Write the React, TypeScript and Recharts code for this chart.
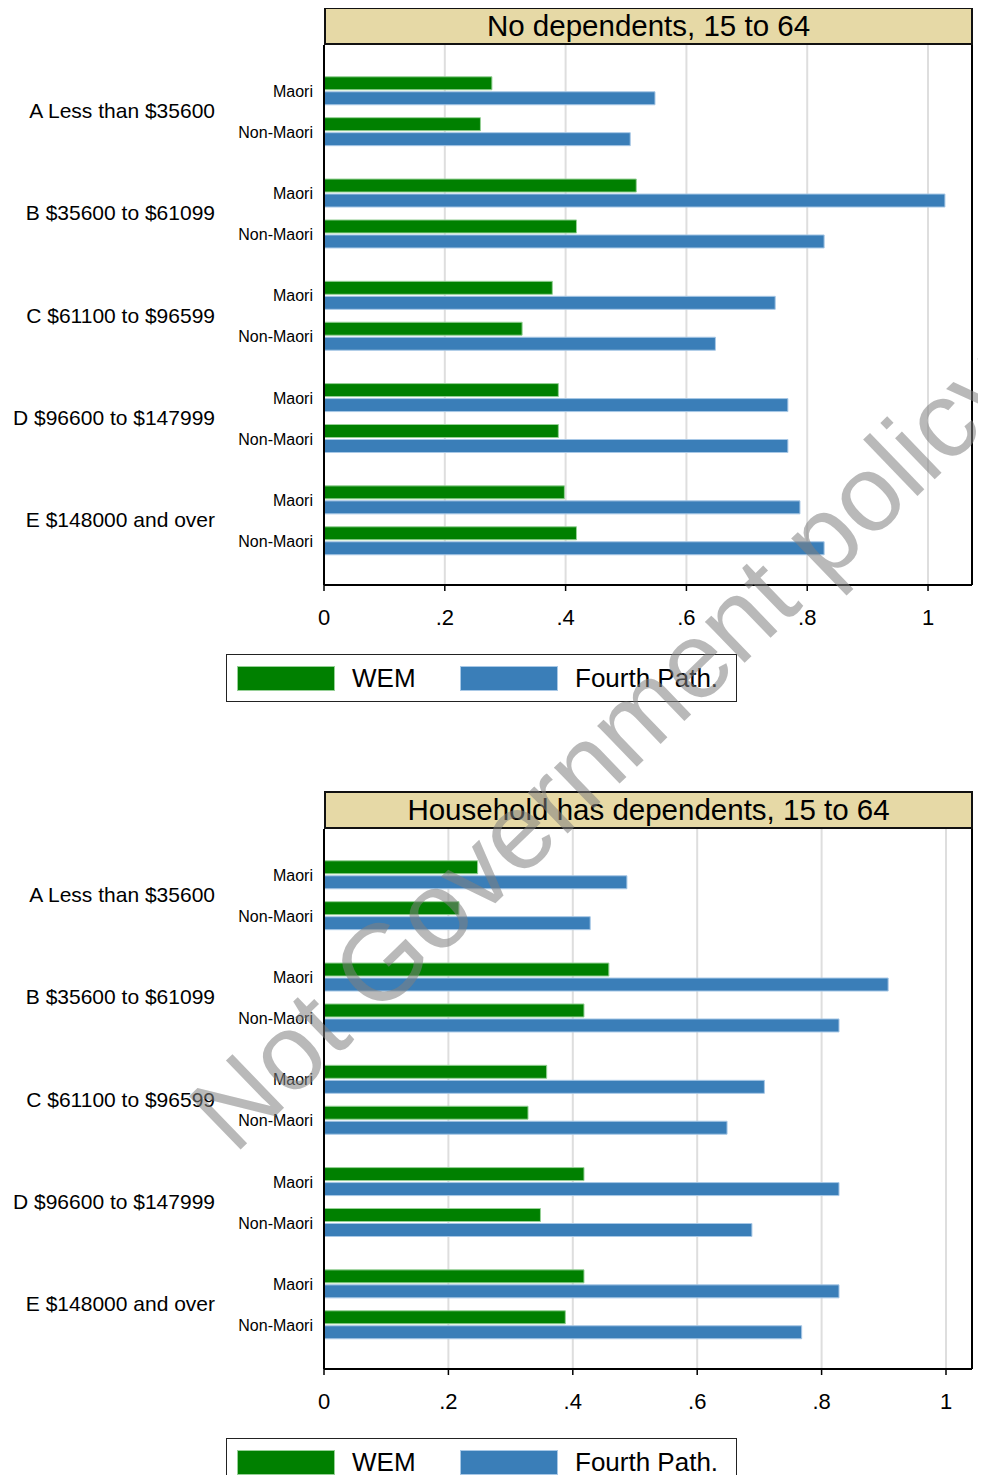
import React from 'react';
import { BarChart, Bar, XAxis, YAxis, CartesianGrid, ReferenceLine } from 'recharts';

// income bands, each split into Maori / Non-Maori rows
const incomeGroups = [
  'A Less than $35600',
  'B $35600 to $61099',
  'C $61100 to $96599',
  'D $96600 to $147999',
  'E $148000 and over',
];
const ethnicities = ['Maori', 'Non-Maori'];
const xTicks = [0, 0.2, 0.4, 0.6, 0.8, 1];
const xTickLabels = ['0', '.2', '.4', '.6', '.8', '1'];

// row order: A Maori, A Non-Maori, B Maori, B Non-Maori, ...
const noDepWem = [0.278, 0.259, 0.517, 0.418, 0.378, 0.328, 0.388, 0.388, 0.398, 0.418];
const noDepFourth = [0.548, 0.507, 1.028, 0.828, 0.747, 0.648, 0.768, 0.768, 0.788, 0.828];
const depWem = [0.247, 0.217, 0.458, 0.418, 0.358, 0.328, 0.418, 0.348, 0.418, 0.388];
const depFourth = [0.487, 0.428, 0.907, 0.828, 0.708, 0.648, 0.828, 0.688, 0.828, 0.768];

const series = [
  { key: 'wem', name: 'WEM', fill: '#008000', stroke: '#96d096' },
  { key: 'fourth', name: 'Fourth Path.', fill: '#3a7eb8', stroke: '#a8c8e6' },
];

const FONT = '"Liberation Sans", Arial, Helvetica, sans-serif';
const CHART_W = 986;
const PLOT_TOP = 45;
const PLOT_H = 540;
const Y_DOMAIN: [number, number] = [-2.26, 24.14];
const UNIT_PX = PLOT_H / (Y_DOMAIN[1] - Y_DOMAIN[0]);

type Row = { group: string; eth: string; pos: number; wem: number; fourth: number };

const buildRows = (wem: number[], fourth: number[]): Row[] =>
  incomeGroups.flatMap((group, gi) =>
    ethnicities.map((eth, ei) => {
      const i = gi * ethnicities.length + ei;
      // 2 units between rows of a band, 3 units between bands
      return { group, eth, pos: gi * 5 + ei * 2, wem: wem[i], fourth: fourth[i] };
    })
  );

const RowTick = ({ x, y, payload, rows }: any) => {
  const row = rows.find((r: Row) => r.pos === payload.value);
  if (!row) return null;
  return (
    <g>
      <text x={x} y={y} dy="0.35em" textAnchor="end" fontSize={16} fill="#000">
        {row.eth}
      </text>
      {row.eth === ethnicities[0] && (
        <text x={x - 98} y={y + UNIT_PX} dy="0.3em" textAnchor="end" fontSize={21} fill="#000">
          {row.group}
        </text>
      )}
    </g>
  );
};

const Panel = ({ title, wem, fourth, xMax, top }: any) => {
  const rows = buildRows(wem, fourth);
  return (
    <div style={{ position: 'absolute', left: 0, top, width: CHART_W, height: 710 }}>
      <div
        style={{
          position: 'absolute',
          left: 324,
          top: 7,
          width: 649,
          height: 38,
          boxSizing: 'border-box',
          background: '#e6d9a6',
          border: '2px solid #111',
          fontSize: 29.5,
          lineHeight: '34px',
          textAlign: 'center',
          whiteSpace: 'nowrap',
          color: '#000',
        }}
      >
        {title}
      </div>
      <div style={{ position: 'absolute', left: 0, top: 0 }}>
        <BarChart
          width={CHART_W}
          height={660}
          data={rows}
          layout="vertical"
          margin={{ top: PLOT_TOP, right: 14, bottom: 0, left: 0 }}
          barGap={2}
        >
          <CartesianGrid horizontal={false} stroke="#dedede" strokeWidth={2} />
          <XAxis
            type="number"
            domain={[0, xMax]}
            ticks={xTicks}
            tickFormatter={(v: number) => xTickLabels[xTicks.indexOf(v)] ?? String(v)}
            height={75}
            tick={{ fontSize: 22, fill: '#000' }}
            tickSize={6}
            tickMargin={18}
            axisLine={{ stroke: '#000', strokeWidth: 2 }}
            tickLine={{ stroke: '#000', strokeWidth: 1.5 }}
          />
          <YAxis
            type="number"
            dataKey="pos"
            domain={Y_DOMAIN}
            allowDataOverflow
            ticks={rows.map((r) => r.pos)}
            width={324}
            tickLine={false}
            tickMargin={5}
            axisLine={{ stroke: '#000', strokeWidth: 2 }}
            tick={(props: any) => <RowTick {...props} rows={rows} />}
          />
          <ReferenceLine x={xMax} stroke="#000" strokeWidth={2} />
          {series.map((s) => (
            <Bar
              key={s.key}
              dataKey={s.key}
              name={s.name}
              fill={s.fill}
              stroke={s.stroke}
              strokeWidth={1}
              barSize={13}
              isAnimationActive={false}
            />
          ))}
        </BarChart>
      </div>
      <div
        style={{
          position: 'absolute',
          left: 226,
          top: 654,
          width: 511,
          height: 48,
          boxSizing: 'border-box',
          border: '1.5px solid #222',
          display: 'flex',
          alignItems: 'center',
          paddingLeft: 10,
        }}
      >
        {series.map((s) => (
          <div key={s.key} style={{ display: 'flex', alignItems: 'center', width: 223, flexShrink: 0 }}>
            <div
              style={{
                width: 98,
                height: 25,
                flexShrink: 0,
                boxSizing: 'border-box',
                background: s.fill,
                border: `1px solid ${s.stroke}`,
              }}
            />
            <span style={{ marginLeft: 17, fontSize: 26, color: '#000', whiteSpace: 'nowrap' }}>{s.name}</span>
          </div>
        ))}
      </div>
    </div>
  );
};

export default function App() {
  return (
    <div
      style={{
        position: 'relative',
        margin: -8,
        width: 986,
        height: 1483,
        overflow: 'hidden',
        background: '#fff',
        fontFamily: FONT,
      }}
    >
      <Panel title="No dependents, 15 to 64" wem={noDepWem} fourth={noDepFourth} xMax={1.0728} top={0} />
      <Panel title="Household has dependents, 15 to 64" wem={depWem} fourth={depFourth} xMax={1.0418} top={784} />
      <svg
        width={986}
        height={1483}
        style={{ position: 'absolute', left: 0, top: 0, pointerEvents: 'none' }}
      >
        <text
          x={603}
          y={747}
          dy="0.35em"
          textAnchor="middle"
          fontSize={108}
          fontFamily={FONT}
          fill="rgba(128,128,128,0.55)"
          transform="rotate(-44 603 747)"
        >
          Not Government policy
        </text>
      </svg>
    </div>
  );
}
